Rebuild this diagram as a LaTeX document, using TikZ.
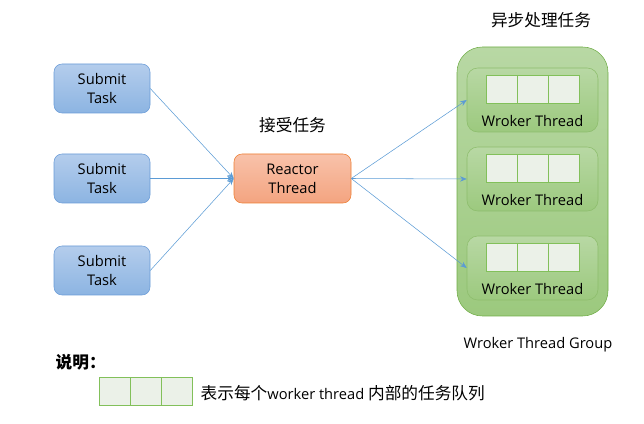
\documentclass[tikz,border=0pt]{standalone}
\usepackage{fontspec}
\setmainfont{Open Sans}
\newfontfamily\cjk{Noto Sans CJK SC}
\usepackage{tikz}
\usetikzlibrary{arrows.meta}
\usetikzlibrary{positioning}
\definecolor{subtop}{RGB}{180,205,236}
\definecolor{subbot}{RGB}{140,180,226}
\definecolor{subline}{RGB}{105,155,215}
\definecolor{reatop}{RGB}{248,194,170}
\definecolor{reabot}{RGB}{244,164,128}
\definecolor{realine}{RGB}{237,125,49}
\definecolor{grptop}{RGB}{184,216,164}
\definecolor{grpbot}{RGB}{156,201,126}
\definecolor{grpline}{RGB}{112,173,71}
\definecolor{cellfill}{RGB}{235,241,232}
\definecolor{cellline}{RGB}{130,192,90}
\definecolor{arrowc}{RGB}{91,155,213}
\newcommand{\latinfont}{\fontsize{11}{14.25}\selectfont}
\newcommand{\hanfont}{\cjk\fontsize{12.5}{15}\selectfont}
\tikzset{
  submit/.style={draw=subline,top color=subtop,bottom color=subbot,rounded corners=6pt,
    minimum width=72pt,minimum height=36.75pt,align=center,font=\latinfont,text=black},
  reactor/.style={draw=realine,top color=reatop,bottom color=reabot,rounded corners=6pt,
    minimum width=87.75pt,minimum height=36.75pt,align=center,font=\latinfont},
  group/.style={draw=grpline,top color=grptop,bottom color=grpbot,rounded corners=19pt,
    minimum width=113.25pt,minimum height=201.75pt},
  worker/.style={draw=grpline!80,top color=grptop,bottom color=grpbot,rounded corners=8pt,
    minimum width=98.25pt,minimum height=48pt},
  cell/.style={draw=cellline,fill=cellfill,minimum width=23.25pt,minimum height=21pt,
    inner sep=0pt,outer sep=0pt},
  link/.style={draw=arrowc,-{Stealth[length=5pt,width=4pt]}},
}
\begin{document}
\begin{tikzpicture}[x=0.75pt,y=-0.75pt]
\useasboundingbox (0,0) rectangle (644,424);

% submit tasks
\node[submit] (s1) at (102,88.5) {Submit\\Task};
\node[submit] (s2) at (102,178.5) {Submit\\Task};
\node[submit] (s3) at (102,270.5) {Submit\\Task};

% reactor
\node[reactor] (reactor) at (292.5,178.5) {Reactor\\Thread};
\node[font=\hanfont] (accept) at (292.5,125) {接受任务};

% worker group
\node[group] (grp) at (532.5,181.5) {};
\node[font=\hanfont] (async) at (541,20) {异步处理任务};
\node[font=\latinfont] (grplabel) at (538,345) {Wroker Thread Group};

\foreach \i/\y in {1/100,2/179,3/268} {
  \node[worker] (w\i) at (532.5,\y) {};
  \node[cell] (w\i c2) at ([yshift=-16pt]w\i.north) {};
  \node[cell] (w\i c1) [left=0pt of w\i c2] {};
  \node[cell] (w\i c3) [right=0pt of w\i c2] {};
  \node[font=\latinfont] (w\i l) at ([yshift=8.5pt]w\i.south) {Wroker Thread};
}

% connectors
\draw[link] (s1.east) -- (reactor.west);
\draw[link] (s2.east) -- (reactor.west);
\draw[link] (s3.east) -- (reactor.west);

\draw[link] (reactor.east) -- (w1.west);
\draw[link] (reactor.east) -- (w2.west);
\draw[link] (reactor.east) -- (w3.west);

% legend
\node[font=\hanfont\bfseries,anchor=west] (note) at (51,362) {说明：};
\node[cell] (k2) at (146,391.5) {};
\node[cell] (k1) [left=0pt of k2] {};
\node[cell] (k3) [right=0pt of k2] {};
\node[font=\latinfont,anchor=west] (ktext) at (196,393) {{\hanfont 表示每个}worker thread {\hanfont 内部的任务队列}};

\end{tikzpicture}
\end{document}
